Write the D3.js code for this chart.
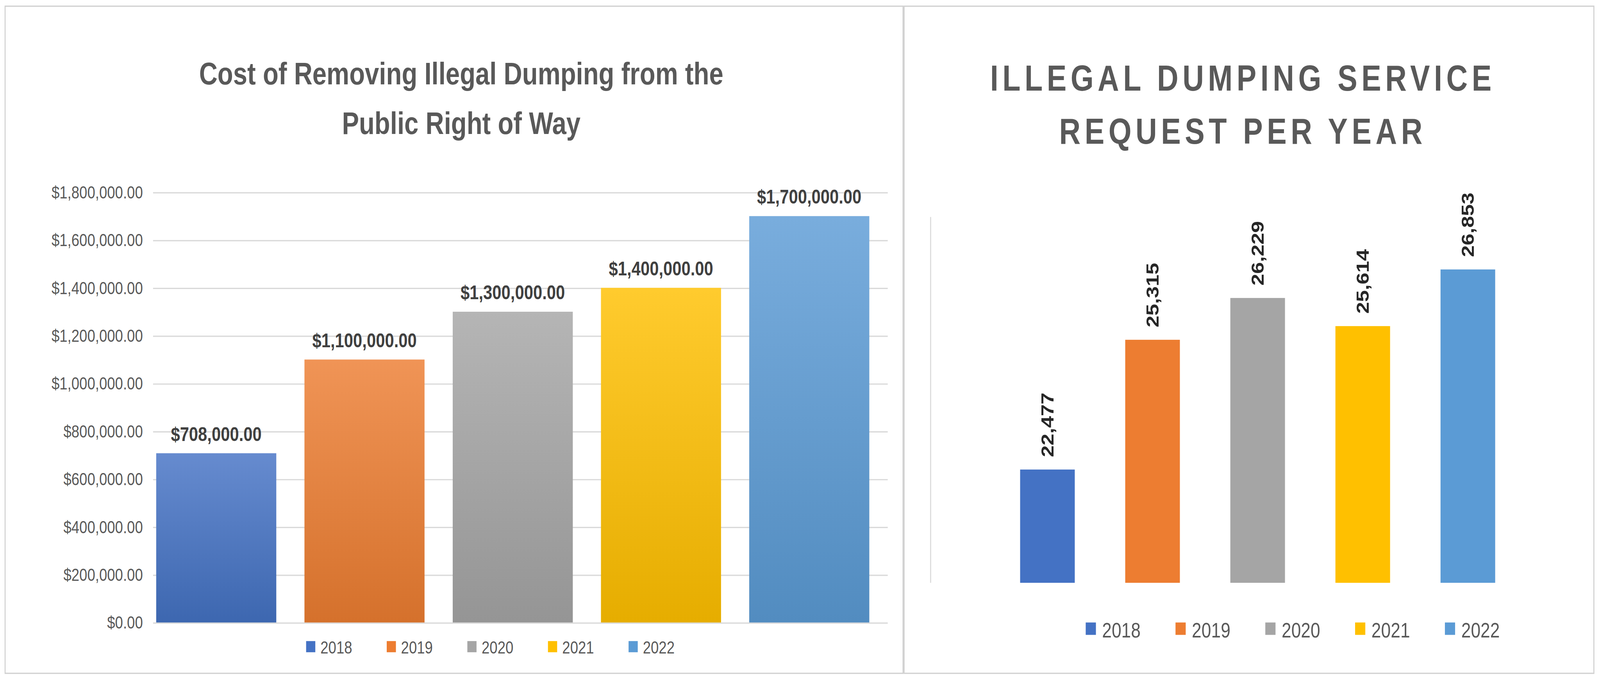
<!DOCTYPE html>
<html><head><meta charset="utf-8">
<script src="https://cdn.jsdelivr.net/npm/d3@7"></script>
<style>html,body{margin:0;padding:0;background:#fff;overflow:hidden;width:100%;height:100%}svg{display:block;width:100vw;height:100vh}</style>
</head><body>
<script>
const years = ["2018","2019","2020","2021","2022"];
const colors = ["#4472C4","#ED7D31","#A5A5A5","#FFC000","#5B9BD5"];
const costValues = [708000,1100000,1300000,1400000,1700000];
const costTicks = [0,200000,400000,600000,800000,1000000,1200000,1400000,1600000,1800000];
const requestValues = [22477,25315,26229,25614,26853];
const titleLeft = ["Cost of Removing Illegal Dumping from the","Public Right of Way"];
const titleRight = ["ILLEGAL DUMPING SERVICE","REQUEST PER YEAR"];

const svg = d3.select("body").append("svg").attr("viewBox","0 0 1568 550").attr("preserveAspectRatio","none");
const F = "'Liberation Sans','Open Sans',sans-serif";
const defs = svg.append("defs");
colors.forEach((c,i)=>{
  const g = defs.append("linearGradient").attr("id","g"+i).attr("x1",0).attr("y1",0).attr("x2",0).attr("y2",1);
  g.append("stop").attr("offset","0%").attr("stop-color",d3.interpolateRgb(c,"#fff")(0.18));
  g.append("stop").attr("offset","100%").attr("stop-color",d3.interpolateRgb(c,"#000")(0.1));
});
svg.append("rect").attr("x",5).attr("y",5).attr("width",880).attr("height",538).attr("fill","none").attr("stroke","#d0d0d0");
svg.append("rect").attr("x",886).attr("y",5).attr("width",676).attr("height",538).attr("fill","none").attr("stroke","#d0d0d0");

// LEFT
const x1 = d3.scaleBand().domain(years).range([140,900-35]).paddingInner(0.19).paddingOuter(0.09);
const y1 = d3.scaleLinear().domain([0,1800000]).range([502,155]);
const fmt = d=>"$"+d3.format(",.2f")(d);
svg.append("g").selectAll("text").data(titleLeft).join("text")
  .attr("x",452).attr("y",(d,i)=>68+i*40).attr("text-anchor","middle")
  .attr("font-family",F).attr("font-weight","bold").attr("font-size",25).attr("fill","#595959").text(d=>d);
const ga = svg.append("g").attr("transform","translate(150,0)")
  .call(d3.axisLeft(y1).tickValues(costTicks).tickFormat(fmt).tickSize(-720).tickPadding(10));
ga.select(".domain").remove();
ga.selectAll("line").attr("stroke","#d9d9d9");
ga.selectAll("text").attr("font-family",F).attr("font-size",14).attr("fill","#595959");
svg.append("g").selectAll("rect").data(costValues).join("rect")
  .attr("x",(d,i)=>x1(years[i])).attr("width",x1.bandwidth())
  .attr("y",d=>y1(d)).attr("height",d=>y1(0)-y1(d)).attr("fill",(d,i)=>`url(#g${i})`);
svg.append("g").selectAll("text").data(costValues).join("text")
  .attr("x",(d,i)=>x1(years[i])+x1.bandwidth()/2).attr("y",d=>y1(d)-10).attr("text-anchor","middle")
  .attr("font-family",F).attr("font-weight","bold").attr("font-size",16).attr("fill","#404040").text(fmt);
const lg1 = svg.append("g").selectAll("g").data(years).join("g").attr("transform",(d,i)=>`translate(${300+i*79},522)`);
lg1.append("rect").attr("x",0).attr("y",-5).attr("width",9).attr("height",9).attr("fill",(d,i)=>colors[i]);
lg1.append("text").attr("x",14).attr("y",5).attr("font-family",F).attr("font-size",14).attr("fill","#595959").text(d=>d);

// RIGHT
const x2 = d3.scaleBand().domain(years).range([975,1490]).paddingInner(0.48).paddingOuter(0.24);
const y2 = d3.scaleLinear().domain([20000,28000]).range([470,175]);
svg.append("g").selectAll("text").data(titleRight).join("text")
  .attr("x",1218).attr("y",(d,i)=>73+i*43).attr("text-anchor","middle").attr("letter-spacing",4)
  .attr("font-family",F).attr("font-weight","bold").attr("font-size",29).attr("fill","#595959").text(d=>d);
svg.append("line").attr("x1",912).attr("x2",912).attr("y1",175).attr("y2",470).attr("stroke","#d9d9d9");
svg.append("g").selectAll("rect").data(requestValues).join("rect")
  .attr("x",(d,i)=>x2(years[i])).attr("width",x2.bandwidth())
  .attr("y",d=>y2(d)).attr("height",d=>y2(20000)-y2(d)).attr("fill",(d,i)=>colors[i]);
svg.append("g").selectAll("text").data(requestValues).join("text")
  .attr("transform",(d,i)=>`translate(${x2(years[i])+x2.bandwidth()/2+6},${y2(d)-10}) rotate(-90)`)
  .attr("font-family",F).attr("font-weight","bold").attr("font-size",17).attr("fill","#262626").text(d3.format(","));
const lg2 = svg.append("g").selectAll("g").data(years).join("g").attr("transform",(d,i)=>`translate(${1064+i*88},508)`);
lg2.append("rect").attr("x",0).attr("y",-6).attr("width",10).attr("height",10).attr("fill",(d,i)=>colors[i]);
lg2.append("text").attr("x",16).attr("y",6).attr("font-family",F).attr("font-size",17).attr("fill","#595959").text(d=>d);
</script>
</body></html>
